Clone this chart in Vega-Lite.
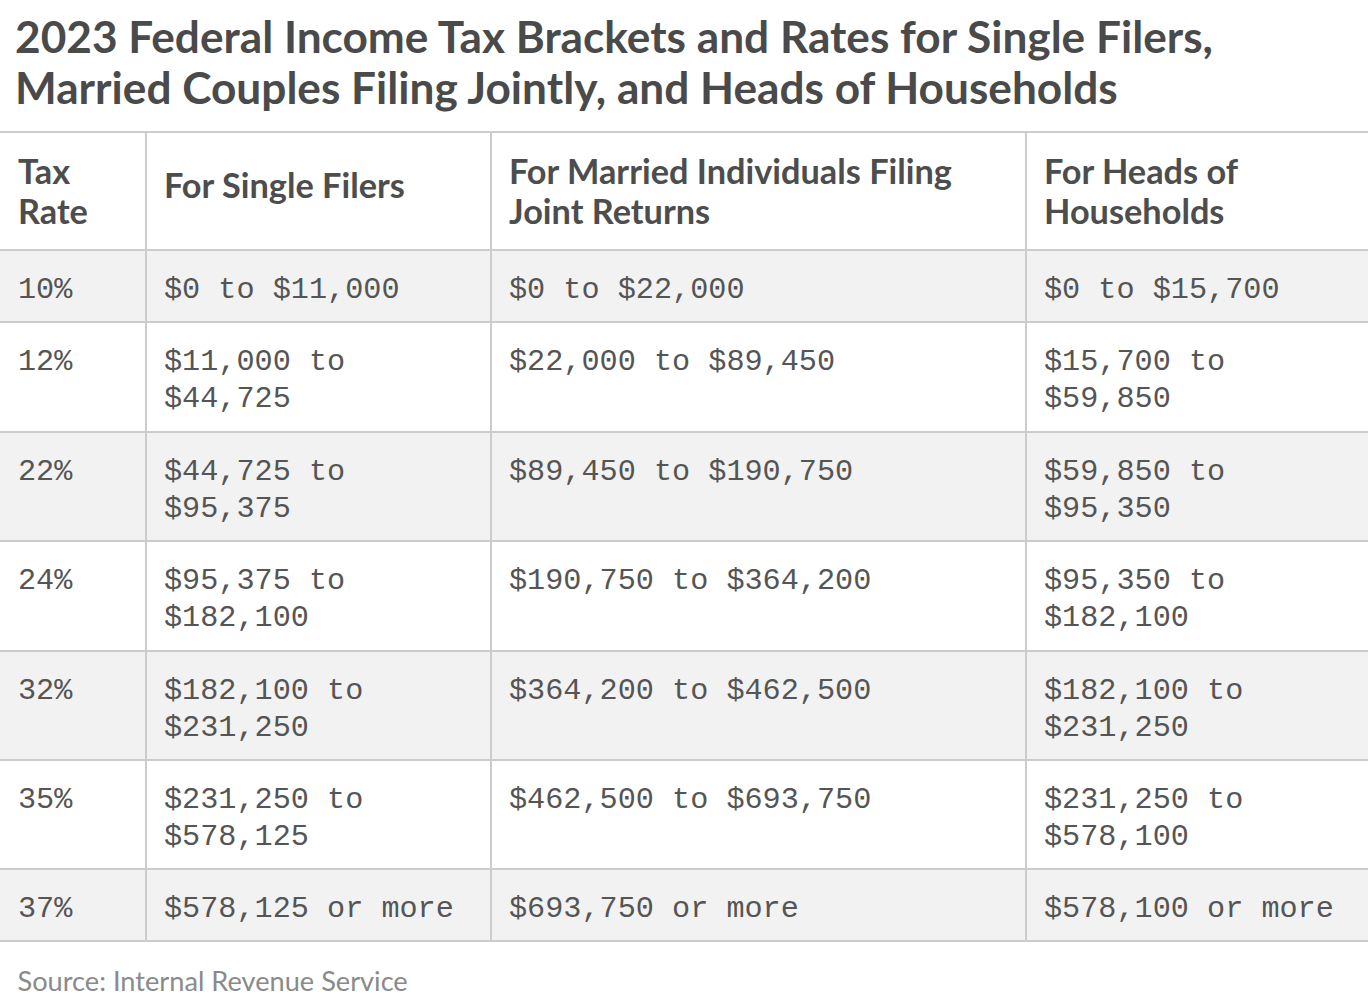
{
  "$schema": "https://vega.github.io/schema/vega-lite/v6.json",
  "width": 1368,
  "height": 809,
  "autosize": {"type": "none"},
  "padding": {"top": 132, "left": 0, "right": 0, "bottom": 65},
  "background": "#ffffff",
  "title": {
    "text": ["2023 Federal Income Tax Brackets and Rates for Single Filers,", "Married Couples Filing Jointly, and Heads of Households"],
    "anchor": "start",
    "font": "Lato",
    "fontSize": 44.2,
    "fontWeight": "bold",
    "color": "#4a4a4a",
    "lineHeight": 51,
    "baseline": "alphabetic",
    "dx": 16,
    "offset": -17
  },
  "data": {
    "values": [
      {"row": 0, "rowEnd": 1, "col": 0, "colEnd": 1, "text": "Tax\nRate"},
      {"row": 0, "rowEnd": 1, "col": 1, "colEnd": 2, "text": "For Single Filers"},
      {"row": 0, "rowEnd": 1, "col": 2, "colEnd": 3, "text": "For Married Individuals Filing\nJoint Returns"},
      {"row": 0, "rowEnd": 1, "col": 3, "colEnd": 4, "text": "For Heads of\nHouseholds"},
      {"row": 1, "rowEnd": 2, "col": 0, "colEnd": 1, "text": "10%"},
      {"row": 1, "rowEnd": 2, "col": 1, "colEnd": 2, "text": "$0 to $11,000"},
      {"row": 1, "rowEnd": 2, "col": 2, "colEnd": 3, "text": "$0 to $22,000"},
      {"row": 1, "rowEnd": 2, "col": 3, "colEnd": 4, "text": "$0 to $15,700"},
      {"row": 2, "rowEnd": 3, "col": 0, "colEnd": 1, "text": "12%"},
      {"row": 2, "rowEnd": 3, "col": 1, "colEnd": 2, "text": "$11,000 to\n$44,725"},
      {"row": 2, "rowEnd": 3, "col": 2, "colEnd": 3, "text": "$22,000 to $89,450"},
      {"row": 2, "rowEnd": 3, "col": 3, "colEnd": 4, "text": "$15,700 to\n$59,850"},
      {"row": 3, "rowEnd": 4, "col": 0, "colEnd": 1, "text": "22%"},
      {"row": 3, "rowEnd": 4, "col": 1, "colEnd": 2, "text": "$44,725 to\n$95,375"},
      {"row": 3, "rowEnd": 4, "col": 2, "colEnd": 3, "text": "$89,450 to $190,750"},
      {"row": 3, "rowEnd": 4, "col": 3, "colEnd": 4, "text": "$59,850 to\n$95,350"},
      {"row": 4, "rowEnd": 5, "col": 0, "colEnd": 1, "text": "24%"},
      {"row": 4, "rowEnd": 5, "col": 1, "colEnd": 2, "text": "$95,375 to\n$182,100"},
      {"row": 4, "rowEnd": 5, "col": 2, "colEnd": 3, "text": "$190,750 to $364,200"},
      {"row": 4, "rowEnd": 5, "col": 3, "colEnd": 4, "text": "$95,350 to\n$182,100"},
      {"row": 5, "rowEnd": 6, "col": 0, "colEnd": 1, "text": "32%"},
      {"row": 5, "rowEnd": 6, "col": 1, "colEnd": 2, "text": "$182,100 to\n$231,250"},
      {"row": 5, "rowEnd": 6, "col": 2, "colEnd": 3, "text": "$364,200 to $462,500"},
      {"row": 5, "rowEnd": 6, "col": 3, "colEnd": 4, "text": "$182,100 to\n$231,250"},
      {"row": 6, "rowEnd": 7, "col": 0, "colEnd": 1, "text": "35%"},
      {"row": 6, "rowEnd": 7, "col": 1, "colEnd": 2, "text": "$231,250 to\n$578,125"},
      {"row": 6, "rowEnd": 7, "col": 2, "colEnd": 3, "text": "$462,500 to $693,750"},
      {"row": 6, "rowEnd": 7, "col": 3, "colEnd": 4, "text": "$231,250 to\n$578,100"},
      {"row": 7, "rowEnd": 8, "col": 0, "colEnd": 1, "text": "37%"},
      {"row": 7, "rowEnd": 8, "col": 1, "colEnd": 2, "text": "$578,125 or more"},
      {"row": 7, "rowEnd": 8, "col": 2, "colEnd": 3, "text": "$693,750 or more"},
      {"row": 7, "rowEnd": 8, "col": 3, "colEnd": 4, "text": "$578,100 or more"}
    ]
  },
  "encoding": {
    "x": {
      "field": "col",
      "type": "quantitative",
      "scale": {"domain": [0, 1, 2, 3, 4], "range": [0, 146, 491, 1026, 1368], "nice": false, "zero": false},
      "axis": {
        "orient": "bottom",
        "labels": false,
        "ticks": false,
        "domain": false,
        "grid": false,
        "title": "Source: Internal Revenue Service",
        "titleAnchor": "start",
        "titleAlign": "left",
        "titleBaseline": "alphabetic",
        "titleX": 17,
        "titleY": 49,
        "titleFont": "Lato",
        "titleFontSize": 27.2,
        "titleFontWeight": "normal",
        "titleColor": "#8a8a8a"
      }
    },
    "y": {
      "field": "row",
      "type": "quantitative",
      "scale": {"domain": [0, 1, 2, 3, 4, 5, 6, 7, 8], "range": [0, 118, 190, 300, 409, 519, 628, 737, 809], "nice": false, "zero": false},
      "axis": null
    }
  },
  "layer": [
    {
      "mark": {"type": "rect"},
      "encoding": {
        "x2": {"field": "colEnd"},
        "y2": {"field": "rowEnd"},
        "fill": {"condition": {"test": "datum.row % 2 == 1", "value": "#f2f2f2"}, "value": "#ffffff"}
      }
    },
    {
      "mark": {"type": "rule", "color": "#cccccc", "strokeWidth": 2},
      "encoding": {
        "x2": {"field": "colEnd"}
      }
    },
    {
      "transform": [{"filter": "datum.row == 7"}],
      "mark": {"type": "rule", "color": "#cccccc", "strokeWidth": 2},
      "encoding": {
        "y": {"field": "rowEnd", "type": "quantitative"},
        "x2": {"field": "colEnd"}
      }
    },
    {
      "transform": [{"filter": "datum.col > 0"}],
      "mark": {"type": "rule", "color": "#cccccc", "strokeWidth": 2},
      "encoding": {
        "y2": {"field": "rowEnd"}
      }
    },
    {
      "transform": [{"filter": "datum.row == 0 && datum.col != 1"}],
      "mark": {
        "type": "text",
        "align": "left",
        "baseline": "alphabetic",
        "dx": 18,
        "dy": 52,
        "font": "Lato",
        "fontSize": 34.3,
        "fontWeight": "bold",
        "color": "#4d4d4d",
        "lineHeight": 40,
        "lineBreak": "\n"
      },
      "encoding": {
        "text": {"field": "text", "type": "nominal"}
      }
    },
    {
      "transform": [{"filter": "datum.row == 0 && datum.col == 1"}],
      "mark": {
        "type": "text",
        "align": "left",
        "baseline": "alphabetic",
        "dx": 18,
        "dy": 66,
        "font": "Lato",
        "fontSize": 34.3,
        "fontWeight": "bold",
        "color": "#4d4d4d",
        "lineHeight": 40,
        "lineBreak": "\n"
      },
      "encoding": {
        "text": {"field": "text", "type": "nominal"}
      }
    },
    {
      "transform": [{"filter": "datum.row > 0"}],
      "mark": {
        "type": "text",
        "align": "left",
        "baseline": "alphabetic",
        "dx": 18,
        "dy": 48,
        "font": "Liberation Mono",
        "fontSize": 30.2,
        "color": "#555555",
        "lineHeight": 37,
        "lineBreak": "\n"
      },
      "encoding": {
        "text": {"field": "text", "type": "nominal"}
      }
    }
  ],
  "config": {"view": {"stroke": null}}
}
